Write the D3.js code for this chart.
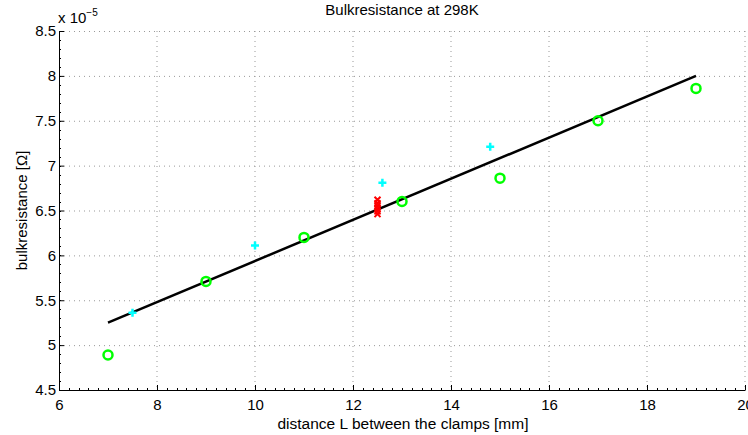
<!DOCTYPE html>
<html>
<head>
<meta charset="utf-8">
<script src="https://cdn.jsdelivr.net/npm/d3@7"></script>
<style>
  body { margin: 0; background: #fff; }
  svg { font-family: "Liberation Sans", Arial, sans-serif; }
</style>
</head>
<body>
<svg id="chart" width="748" height="435"></svg>
<script>
// data (y values in units of 1e-5 Ohm)
var circleX = [7, 9, 11, 13, 15, 17, 19];
var circleY = [4.89, 5.71, 6.2, 6.6, 6.86, 7.5, 7.86];
var plusX = [7.5, 10, 12.6, 14.8];
var plusY = [5.36, 6.11, 6.81, 7.21];
var crossX = [12.5, 12.5, 12.5, 12.5, 12.5, 12.5];
var crossY = [6.46, 6.49, 6.52, 6.55, 6.58, 6.62];
var fitX = [7, 19];
var fitY = [5.25, 8.0];
var xTicks = [6, 8, 10, 12, 14, 16, 18, 20];
var yTicks = [4.5, 5, 5.5, 6, 6.5, 7, 7.5, 8, 8.5];

var margin = { top: 31, right: 3, bottom: 45, left: 59 },
  width = 748 - margin.left - margin.right,
  height = 435 - margin.top - margin.bottom;

var svg = d3.select("svg#chart");
var g = svg.append("g").attr("transform", "translate(" + margin.left + "," + margin.top + ")");

var scaleX = d3.scaleLinear().domain([6, 20]).range([0, 686]);
var scaleY = d3.scaleLinear().domain([4.5, 8.5]).range([height, 0]);

// grid
var gridColor = "#999";
g.selectAll(".vgrid")
  .data(xTicks.slice(1))
  .enter()
  .append("line")
  .attr("x1", (d) => scaleX(d))
  .attr("x2", (d) => scaleX(d))
  .attr("y1", 0)
  .attr("y2", height)
  .attr("stroke", gridColor)
  .attr("stroke-width", 1)
  .attr("stroke-dasharray", "1,4");
g.selectAll(".hgrid")
  .data(yTicks.slice(1))
  .enter()
  .append("line")
  .attr("x1", 0)
  .attr("x2", scaleX(20))
  .attr("y1", (d) => scaleY(d) + 0.5)
  .attr("y2", (d) => scaleY(d) + 0.5)
  .attr("stroke", gridColor)
  .attr("stroke-width", 1)
  .attr("stroke-dasharray", "1,4");

// minor ticks
var minorX = d3.range(6, 20.001, 0.2);
g.selectAll(".mx")
  .data(minorX)
  .enter()
  .append("line")
  .attr("x1", (d) => Math.round(scaleX(d)) + 0.5)
  .attr("x2", (d) => Math.round(scaleX(d)) + 0.5)
  .attr("y1", height)
  .attr("y2", height - 2)
  .attr("stroke", "#000");
var minorY = d3.range(4.5, 8.501, 0.1);
g.selectAll(".my")
  .data(minorY)
  .enter()
  .append("line")
  .attr("x1", 0)
  .attr("x2", 2)
  .attr("y1", (d) => Math.round(scaleY(d)) + 0.5)
  .attr("y2", (d) => Math.round(scaleY(d)) + 0.5)
  .attr("stroke", "#000");

// axes
var xAxis = d3.axisBottom(scaleX).tickValues(xTicks).tickSizeInner(-5).tickSizeOuter(0).tickPadding(9);
var yAxis = d3.axisLeft(scaleY).tickValues(yTicks).tickSizeInner(-5).tickSizeOuter(0).tickPadding(3)
  .tickFormat(d3.format("~g"));

var gx = g.append("g").attr("transform", "translate(0," + height + ")").call(xAxis);
var gy = g.append("g").call(yAxis);
[gx, gy].forEach(function (a) {
  a.selectAll("text").attr("font-size", 15).attr("fill", "#000").attr("font-family", "Liberation Sans, Arial, sans-serif");
  a.selectAll("line").attr("stroke", "#000");
  a.select(".domain").attr("stroke", "#000").attr("stroke-width", 1);
});

// fit line
var line = d3.line().x((d) => scaleX(d[0])).y((d) => scaleY(d[1]));
g.append("path")
  .attr("d", line(d3.zip(fitX, fitY)))
  .attr("stroke", "#000")
  .attr("stroke-width", 2.5)
  .attr("fill", "none");

// red crosses
g.selectAll(".cross")
  .data(d3.zip(crossX, crossY))
  .enter()
  .append("path")
  .attr("d", (d) => {
    var x = scaleX(d[0]), y = scaleY(d[1]), s = 3;
    return "M" + (x - s) + "," + (y - s) + "L" + (x + s) + "," + (y + s) +
      "M" + (x - s) + "," + (y + s) + "L" + (x + s) + "," + (y - s);
  })
  .attr("stroke", "#ff0000")
  .attr("stroke-width", 2);

// cyan plus
g.selectAll(".plus")
  .data(d3.zip(plusX, plusY))
  .enter()
  .append("path")
  .attr("d", (d) => {
    var x = scaleX(d[0]), y = scaleY(d[1]), s = 4;
    return "M" + (x - s) + "," + y + "L" + (x + s) + "," + y +
      "M" + x + "," + (y - s) + "L" + x + "," + (y + s);
  })
  .attr("stroke", "#00ffff")
  .attr("stroke-width", 2.5);

// green circles
g.selectAll(".circ")
  .data(d3.zip(circleX, circleY))
  .enter()
  .append("circle")
  .attr("cx", (d) => scaleX(d[0]))
  .attr("cy", (d) => scaleY(d[1]))
  .attr("r", 4.5)
  .attr("fill", "none")
  .attr("stroke", "#00ff00")
  .attr("stroke-width", 2.5);

// title and labels
svg.append("text")
  .attr("x", margin.left + 343)
  .attr("y", 15)
  .attr("text-anchor", "middle")
  .attr("font-size", 15)
  .text("Bulkresistance at 298K");

svg.append("text")
  .attr("x", 403)
  .attr("y", 429)
  .attr("text-anchor", "middle")
  .attr("font-size", 15.5)
  .text("distance L between the clamps [mm]");

svg.append("text")
  .attr("transform", "translate(27," + (margin.top + height / 2) + ") rotate(-90)")
  .attr("text-anchor", "middle")
  .attr("font-size", 15)
  .text("bulkresistance [\u03A9]");

var exp = svg.append("text").attr("x", 58).attr("y", 23).attr("font-size", 15);
exp.append("tspan").text("x 10");
exp.append("tspan").attr("dy", -7).attr("font-size", 10).text("\u22125");
</script>
</body>
</html>
